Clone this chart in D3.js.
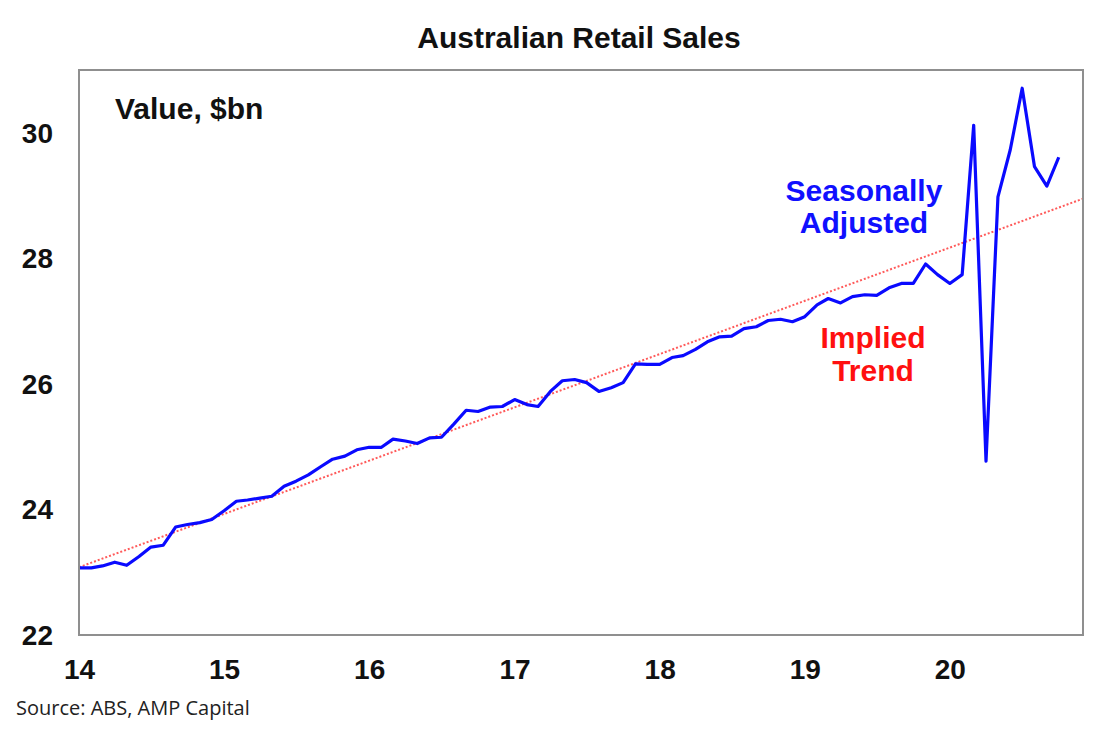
<!DOCTYPE html>
<html>
<head>
<meta charset="utf-8">
<script src="https://cdn.jsdelivr.net/npm/d3@7"></script>
<style>
  html, body { margin: 0; padding: 0; background: #fff; }
  svg { display: block; }
</style>
</head>
<body>
<svg id="chart" width="1113" height="736"></svg>
<script>
// ---- Data (monthly, Jan 2014 .. Oct 2020), $bn ----
const startMonth = "2014-01";
const seasonallyAdjusted = [
  23.07, 23.07, 23.10, 23.16, 23.11, 23.25, 23.40, 23.43, 23.72, 23.76, 23.79, 23.84,
  23.98, 24.13, 24.15, 24.18, 24.21, 24.37, 24.45, 24.55, 24.68, 24.80, 24.85, 24.95,
  24.99, 24.99, 25.12, 25.09, 25.05, 25.14, 25.15, 25.36, 25.58, 25.56, 25.63, 25.64,
  25.75, 25.67, 25.64, 25.88, 26.05, 26.07, 26.02, 25.88, 25.94, 26.02, 26.32, 26.31,
  26.31, 26.42, 26.45, 26.55, 26.67, 26.75, 26.76, 26.88, 26.91, 27.01, 27.03, 26.99,
  27.07, 27.26, 27.36, 27.29, 27.39, 27.42, 27.41, 27.53, 27.60, 27.60, 27.91, 27.74,
  27.60, 27.74, 30.12, 24.77, 28.98, 29.73, 30.71, 29.46, 29.15, 29.61
];
const trendDates = ["2014-01", "2020-12"];
const trendValues = [23.08, 28.95];
const xDomain = ["2014-01", "2020-12"];
const yDomain = [22, 31];
const yTicks = [22, 24, 26, 28, 30];
const xTickYears = [2014, 2015, 2016, 2017, 2018, 2019, 2020];

// ---- Layout ----
const svg = d3.select("#chart");
const plot = { left: 79, right: 1083, top: 70, bottom: 635 };
const parse = d3.timeParse("%Y-%m");
const FONT = "Liberation Sans, Arial, sans-serif";

const x = d3.scaleTime()
  .domain(xDomain.map(parse))
  .range([plot.left, plot.right]);
const y = d3.scaleLinear()
  .domain(yDomain)
  .range([plot.bottom, plot.top]);

const start = parse(startMonth);
const saData = seasonallyAdjusted.map((v, i) => ({ date: d3.timeMonth.offset(start, i), value: v }));
const trendData = trendDates.map((d, i) => ({ date: parse(d), value: trendValues[i] }));

// Title
svg.append("text")
  .attr("x", 579).attr("y", 37)
  .attr("text-anchor", "middle")
  .attr("dominant-baseline", "central")
  .attr("font-family", FONT)
  .attr("font-weight", "bold")
  .attr("font-size", 30)
  .attr("fill", "#111")
  .text("Australian Retail Sales");

// Y axis labels
const yAxis = d3.axisLeft(y).tickValues(yTicks).tickSize(0).tickPadding(26).tickFormat(d3.format("d"));
const gy = svg.append("g").attr("transform", `translate(${plot.left},0)`).call(yAxis);
gy.select(".domain").remove();
gy.selectAll("text")
  .attr("dy", null)
  .attr("dominant-baseline", "central")
  .attr("font-family", FONT)
  .attr("font-weight", "bold")
  .attr("font-size", 28)
  .attr("fill", "#111");

// X axis labels
const xAxis = d3.axisBottom(x)
  .tickValues(xTickYears.map(yr => new Date(yr, 0, 1)))
  .tickSize(0).tickPadding(34)
  .tickFormat(d3.timeFormat("%y"));
const gx = svg.append("g").attr("transform", `translate(0,${plot.bottom})`).call(xAxis);
gx.select(".domain").remove();
gx.selectAll("text")
  .attr("dy", null)
  .attr("dominant-baseline", "central")
  .attr("font-family", FONT)
  .attr("font-weight", "bold")
  .attr("font-size", 28)
  .attr("fill", "#111");

// Clip
svg.append("clipPath").attr("id", "clip")
  .append("rect")
  .attr("x", plot.left).attr("y", plot.top)
  .attr("width", plot.right - plot.left).attr("height", plot.bottom - plot.top);

const line = d3.line().x(d => x(d.date)).y(d => y(d.value));

// Trend (dotted red)
svg.append("path")
  .datum(trendData)
  .attr("clip-path", "url(#clip)")
  .attr("fill", "none")
  .attr("stroke", "#ff5a5a")
  .attr("stroke-width", 2)
  .attr("stroke-dasharray", "2,2")
  .attr("d", line);

// Seasonally adjusted (blue)
svg.append("path")
  .datum(saData)
  .attr("clip-path", "url(#clip)")
  .attr("fill", "none")
  .attr("stroke", "#0a0aff")
  .attr("stroke-width", 3.2)
  .attr("stroke-linejoin", "round")
  .attr("d", line);

// Frame
svg.append("rect")
  .attr("x", plot.left).attr("y", plot.top)
  .attr("width", plot.right - plot.left).attr("height", plot.bottom - plot.top)
  .attr("fill", "none")
  .attr("stroke", "#8f8f8f")
  .attr("stroke-width", 2);

// Annotations
const ann = (txt, xx, yy, color, size, weight) => svg.append("text")
  .attr("x", xx).attr("y", yy)
  .attr("text-anchor", "middle")
  .attr("dominant-baseline", "central")
  .attr("font-family", FONT)
  .attr("font-weight", weight)
  .attr("font-size", size)
  .attr("fill", color)
  .text(txt);

svg.append("text")
  .attr("x", 115).attr("y", 108)
  .attr("dominant-baseline", "central")
  .attr("font-family", FONT)
  .attr("font-weight", "bold")
  .attr("font-size", 30)
  .attr("fill", "#111")
  .text("Value, $bn");

ann("Seasonally", 864, 190, "#1010ff", 30, "bold");
ann("Adjusted", 864, 222, "#1010ff", 30, "bold");
ann("Implied", 873, 337, "#ff1010", 30, "bold");
ann("Trend", 873, 370, "#ff1010", 30, "bold");

// Source
svg.append("text")
  .attr("x", 16).attr("y", 715)
  .attr("font-family", "Open Sans, sans-serif")
  .attr("font-size", 20)
  .attr("fill", "#222")
  .text("Source: ABS, AMP Capital");
</script>
</body>
</html>
